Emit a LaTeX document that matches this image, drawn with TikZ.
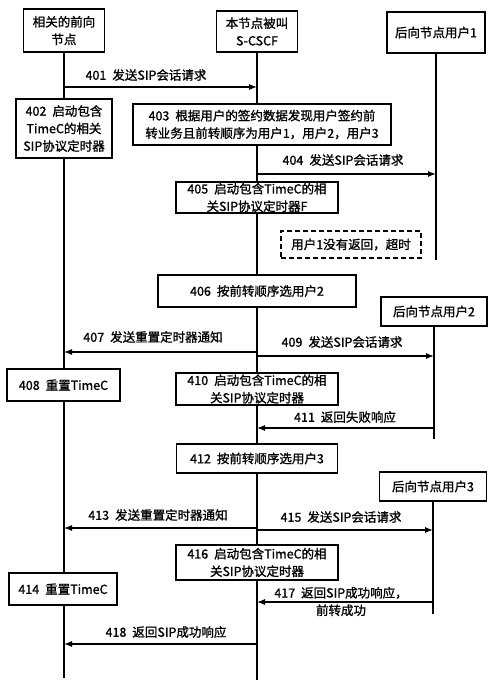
\documentclass[tikz,border=0pt]{standalone}
\usepackage{fontspec}
\setmainfont[FakeBold=1.2]{Noto Sans CJK SC}
\usetikzlibrary{arrows.meta}
\newcommand\numgap{\hspace{6pt}}
\begin{document}
\begin{tikzpicture}[x=1pt,y=-1pt,
  txt/.style={font=\fontsize{12.5}{17.5}\selectfont},
  box/.style={txt, draw, fill=white, line width=1.1pt, align=center, inner sep=0pt},
  dbox/.style={box, dash pattern=on 5pt off 3pt},
  life/.style={line width=1.1pt},
  msg/.style={line width=1.1pt, -{Latex[length=8pt,width=6pt]}},
  lbl/.style={txt, inner sep=0pt, align=center}]
\useasboundingbox (0,0) rectangle (500,688);

% header boxes
\node[box, minimum width=81, minimum height=43] (h1) at (64,30.5) {相关的前向\\节点};
\node[box, minimum width=81, minimum height=41] (h2) at (257,31.5) {本节点被叫\\S-CSCF};
\node[box, minimum width=98, minimum height=41] (h3) at (436,32.5) {后向节点用户1};

% lifeline ends
\coordinate (e1) at (64,678);
\coordinate (e2) at (257,680);
\coordinate (e3) at (436,260);
\coordinate (e4) at (434,439);
\coordinate (e5) at (433,614);

\draw[life] (h1.south) -- (e1);
\draw[life] (h2.south) -- (e2);
\draw[life] (h3.south) -- (e3);

% 401
\draw[msg] (h1 |- 0,87) -- (h2 |- 0,87);
\node[lbl] (l401) at (146,75) {401\numgap 发送SIP会话请求};

\node[box, minimum width=96, minimum height=59] (b402) at (64,128.5) {402\numgap 启动包含\\TimeC的相关\\SIP协议定时器};
\node[box, minimum width=258, minimum height=41] (b403) at (262,124.5) {403\numgap 根据用户的签约数据发现用户签约前\\转业务且前转顺序为用户1，用户2，用户3};

% 404
\draw[msg] (h2 |- 0,174) -- (h3 |- 0,174);
\node[lbl] (l404) at (343,160) {404\numgap 发送SIP会话请求};

\node[box, minimum width=162, minimum height=31] (b405) at (257,197.5) {405\numgap 启动包含TimeC的相\\关SIP协议定时器F};
\node[dbox, minimum width=140, minimum height=27] (b405t) at (351,244.5) {用户1没有返回，超时};

\node[box, minimum width=198, minimum height=32] (b406) at (257,291) {406\numgap 按前转顺序选用户2};

% user 2
\node[box, minimum width=106, minimum height=29] (h4) at (434,311.5) {后向节点用户2};
\draw[life] (h4.south) -- (e4);

% 407, 409
\draw[msg] (h2 |- 0,352) -- (h1 |- 0,352);
\node[lbl] (l407) at (153,337) {407\numgap 发送重置定时器通知};
\draw[msg] (h2 |- 0,356) -- (h4 |- 0,356);
\node[lbl] (l409) at (342,342) {409\numgap 发送SIP会话请求};

\node[box, minimum width=113, minimum height=32] (b408) at (63.5,385) {408\numgap 重置TimeC};
\node[box, minimum width=162, minimum height=32] (b410) at (257,389) {410\numgap 启动包含TimeC的相\\关SIP协议定时器};

% 411
\draw[msg] (h4 |- 0,428) -- (h2 |- 0,428);
\node[lbl] (l411) at (345,417) {411\numgap 返回失败响应};

\node[box, minimum width=161, minimum height=29] (b412) at (257,458.5) {412\numgap 按前转顺序选用户3};

% user 3
\node[box, minimum width=107, minimum height=29] (h5) at (433,486.5) {后向节点用户3};
\draw[life] (h5.south) -- (e5);

% 413, 415
\draw[msg] (h2 |- 0,528) -- (h1 |- 0,528);
\node[lbl] (l413) at (158,515) {413\numgap 发送重置定时器通知};
\draw[msg] (h2 |- 0,530) -- (h5 |- 0,530);
\node[lbl] (l415) at (341,517) {415\numgap 发送SIP会话请求};

\node[box, minimum width=162, minimum height=35] (b416) at (257,562.5) {416\numgap 启动包含TimeC的相\\关SIP协议定时器};
\node[box, minimum width=108, minimum height=32] (b414) at (63,589) {414\numgap 重置TimeC};

% 417
\draw[msg] (h5 |- 0,602) -- (h2 |- 0,602);
\node[lbl] (l417) at (341,601.5) {417\numgap 返回SIP成功响应，\\前转成功};

% 418
\draw[msg] (h2 |- 0,644) -- (h1 |- 0,644);
\node[lbl] (l418) at (166,632) {418\numgap 返回SIP成功响应};
\end{tikzpicture}
\end{document}
